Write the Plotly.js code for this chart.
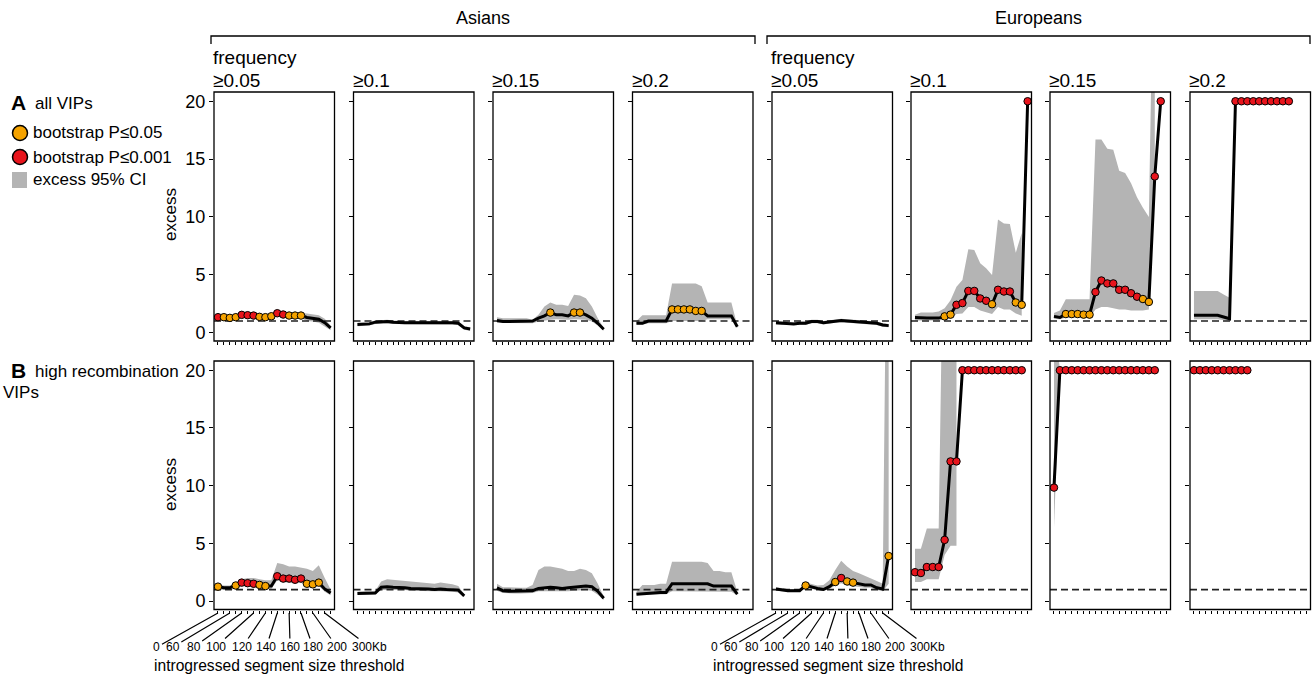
<!DOCTYPE html>
<html><head><meta charset="utf-8">
<script src="https://cdn.plot.ly/plotly-3.0.1.min.js"></script>
<style>body{margin:0;background:#fff}#chart{width:1314px;height:677px}</style>
</head><body><div id="chart"></div>
<script>
// ---------------- DATA ----------------
const thresholdIdx = [0,1,2,3,4,5,6,7,8,9,10,11,12,13,14,15,16,17,18,19];
const tickLabelText = ['0','60','80','100','120','140','160','180','200','300Kb'];
const tickLabelAt = [0,2,4,6,8,10,12,14,16,18];
const freqLabels = ['≥0.05','≥0.1','≥0.15','≥0.2'];
const populations = ['Asians','Europeans'];
const yTicks = [0,5,10,15,20];
const nullExcess = 1;
// sig: 0 = none, 1 = bootstrap P<=0.05, 2 = bootstrap P<=0.001

// Row A: all VIPs
const A1_ex  = [1.33,1.33,1.27,1.33,1.53,1.5,1.47,1.36,1.33,1.41,1.67,1.56,1.47,1.47,1.47,1.3,1.22,1.15,0.85,0.4];
const A1_lo  = [1.1,1.1,1.05,1.1,1.3,1.3,1.25,1.15,1.1,1.2,1.45,1.35,1.25,1.25,1.25,1.0,0.95,0.85,0.55,0.2];
const A1_hi  = [1.5,1.5,1.45,1.5,1.7,1.7,1.65,1.55,1.5,1.6,1.85,1.75,1.65,1.65,1.7,1.65,1.6,1.5,1.2,0.6];
const A1_sig = [2,1,1,1,2,2,2,1,1,1,2,2,1,1,1,0,0,0,0,0];

const A2_ex  = [0.7,0.7,0.75,0.9,0.95,0.95,0.9,0.85,0.85,0.85,0.85,0.9,0.85,0.85,0.85,0.85,0.85,0.8,0.4,0.3];
const A2_lo  = [0.55,0.55,0.6,0.75,0.8,0.8,0.75,0.7,0.7,0.7,0.7,0.75,0.7,0.7,0.7,0.7,0.7,0.65,0.25,0.15];
const A2_hi  = [0.85,0.85,0.9,1.05,1.1,1.1,1.05,1.0,1.0,1.0,1.0,1.05,1.0,1.0,1.0,1.0,1.0,0.95,0.55,0.45];
const A2_sig = [0,0,0,0,0,0,0,0,0,0,0,0,0,0,0,0,0,0,0,0];

const A3_ex  = [1.04,0.95,0.95,0.95,0.95,0.95,1.0,1.24,1.44,1.73,1.53,1.53,1.44,1.73,1.73,1.53,1.24,0.8,0.29,null];
const A3_lo  = [0.85,0.8,0.8,0.8,0.8,0.8,0.8,0.95,1.05,1.1,1.15,1.15,1.1,1.15,1.15,1.1,0.95,0.6,0.15,null];
const A3_hi  = [1.33,1.24,1.24,1.24,1.24,1.24,1.1,1.53,2.25,2.6,2.4,2.4,2.3,3.26,3.2,2.97,2.25,1.24,0.4,null];
const A3_sig = [0,0,0,0,0,0,0,0,0,1,0,0,0,1,1,0,0,0,0,0];

const A4_ex  = [0.8,0.8,1.0,1.0,1.0,1.0,2.0,2.0,2.0,2.0,1.87,1.87,1.44,1.44,1.44,1.44,1.44,0.5,null,null];
const A4_lo  = [0.7,0.7,0.8,0.8,0.8,0.8,1.0,1.0,1.0,1.0,1.0,1.0,1.15,1.15,1.15,1.15,1.15,0.4,null,null];
const A4_hi  = [1.0,1.5,1.5,1.5,1.5,1.5,4.25,4.25,4.25,4.25,4.25,4.0,2.6,2.6,2.6,2.6,2.6,0.6,null,null];
const A4_sig = [0,0,0,0,0,0,1,1,1,1,1,1,0,0,0,0,0,0,0,0];

const A5_ex  = [0.85,0.8,0.75,0.75,0.8,0.8,0.95,0.95,0.85,0.9,1.0,1.05,1.0,0.95,0.9,0.85,0.85,0.8,0.65,0.6];
const A5_lo  = [0.7,0.65,0.6,0.6,0.65,0.65,0.8,0.8,0.7,0.75,0.85,0.9,0.85,0.8,0.75,0.7,0.7,0.65,0.5,0.45];
const A5_hi  = [1.0,0.95,0.9,0.9,0.95,0.95,1.1,1.1,1.0,1.05,1.15,1.2,1.15,1.1,1.05,1.0,1.0,0.95,0.8,0.75];
const A5_sig = [0,0,0,0,0,0,0,0,0,0,0,0,0,0,0,0,0,0,0,0];

const A6_ex  = [1.3,1.25,1.25,1.25,1.25,1.4,1.55,2.4,2.55,3.6,3.6,2.95,2.75,2.45,3.7,3.55,3.55,2.6,2.4,20];
const A6_lo  = [1.05,1.05,1.05,1.05,1.05,1.1,1.2,1.6,1.65,2.2,2.2,1.9,1.75,1.6,2.2,2.0,2.0,1.65,1.45,null];
const A6_hi  = [1.53,1.73,1.73,1.73,1.81,2.1,2.8,3.97,4.55,7.2,7.14,6.0,5.55,4.98,9.78,9.44,9.38,6.9,8.6,null];
const A6_sig = [0,0,0,0,0,1,1,2,2,2,2,2,2,1,2,2,2,1,1,2];

const A7_ex  = [1.4,1.3,1.6,1.6,1.6,1.55,1.55,3.5,4.5,4.25,4.25,3.7,3.7,3.4,3.1,2.9,2.65,13.5,20,null];
const A7_lo  = [1.2,1.15,1.3,1.3,1.3,1.3,1.3,2.0,2.2,2.2,2.1,2.0,2.0,1.9,1.9,1.9,2.0,12,null,null];
const A7_hi  = [1.7,1.9,2.88,2.88,2.88,2.88,2.88,16.7,16.7,15.9,15.8,14.0,13.8,12.9,11.7,10.8,10.0,40,null,null];
const A7_sig = [0,0,1,1,1,1,1,2,2,2,2,2,2,2,2,1,1,2,2,0];

const A8_ex  = [1.5,1.5,1.5,1.5,1.5,1.35,1.2,20,20,20,20,20,20,20,20,20,20,null,null,null];
const A8_lo  = [1.15,1.15,1.15,1.15,1.15,1.1,1.0,null,null,null,null,null,null,null,null,null,null,null,null,null];
const A8_hi  = [3.6,3.6,3.6,3.6,3.6,3.3,3.0,null,null,null,null,null,null,null,null,null,null,null,null,null];
const A8_sig = [0,0,0,0,0,0,0,2,2,2,2,2,2,2,2,2,2,0,0,0];

// Row B: high recombination VIPs
const B1_ex  = [1.25,1.15,1.15,1.35,1.6,1.55,1.5,1.4,1.3,1.3,2.15,1.95,1.95,1.85,1.95,1.5,1.45,1.6,1.05,0.7];
const B1_lo  = [1.0,0.95,0.95,1.1,1.3,1.25,1.2,1.1,1.05,1.05,1.8,1.6,1.6,1.5,1.6,1.2,1.15,1.3,0.8,0.5];
const B1_hi  = [1.45,1.35,1.35,1.6,1.9,2.0,2.0,1.9,1.8,1.8,3.3,3.2,3.0,3.0,2.9,2.8,2.6,3.1,2.0,1.0];
const B1_sig = [1,0,0,1,2,2,2,1,1,0,2,2,2,2,2,1,1,1,0,0];

const B2_ex  = [0.65,0.65,0.7,0.7,1.2,1.25,1.2,1.2,1.15,1.1,1.1,1.05,1.05,1.0,1.05,1.0,0.95,0.95,0.45,null];
const B2_lo  = [0.55,0.55,0.6,0.6,0.95,1.0,0.95,0.95,0.95,0.9,0.9,0.9,0.85,0.85,0.85,0.85,0.8,0.75,0.35,null];
const B2_hi  = [0.8,0.8,0.85,0.9,1.7,1.9,1.85,1.8,1.75,1.65,1.6,1.6,1.55,1.5,1.6,1.55,1.45,1.3,0.6,null];
const B2_sig = [0,0,0,0,0,0,0,0,0,0,0,0,0,0,0,0,0,0,0,0];

const B3_ex  = [1.15,0.9,0.85,0.85,0.85,0.85,0.9,1.1,1.15,1.2,1.15,1.1,1.15,1.2,1.25,1.3,1.25,0.85,0.25,null];
const B3_lo  = [0.9,0.7,0.65,0.65,0.65,0.65,0.7,0.85,0.85,0.9,0.85,0.85,0.85,0.9,0.95,0.95,0.9,0.55,0.1,null];
const B3_hi  = [1.5,1.2,1.2,1.15,1.15,1.15,1.4,2.7,3.0,3.0,2.9,2.8,2.6,2.6,2.8,2.7,2.4,1.5,0.4,null];
const B3_sig = [0,0,0,0,0,0,0,0,0,0,0,0,0,0,0,0,0,0,0,0];

const B4_ex  = [0.6,0.65,0.7,0.7,0.75,0.75,1.5,1.5,1.5,1.5,1.5,1.5,1.5,1.3,1.3,1.3,1.3,0.6,null,null];
const B4_lo  = [0.5,0.55,0.55,0.55,0.6,0.6,0.85,0.85,0.85,0.85,0.85,0.85,0.85,0.8,0.8,0.8,0.8,0.5,null,null];
const B4_hi  = [0.8,1.4,1.4,1.4,1.5,1.5,3.4,3.4,3.4,3.4,3.4,3.4,3.3,2.6,2.6,2.5,2.5,0.8,null,null];
const B4_sig = [0,0,0,0,0,0,0,0,0,0,0,0,0,0,0,0,0,0,0,0];

const B5_ex  = [1.05,0.95,0.9,0.9,0.9,1.35,1.2,1.1,1.0,1.25,1.65,2.0,1.7,1.6,1.45,1.4,1.4,1.15,1.05,3.9];
const B5_lo  = [0.9,0.85,0.8,0.8,0.8,1.15,1.05,0.95,0.9,1.05,1.35,1.55,1.35,1.3,1.2,1.15,1.15,0.95,0.85,1.5];
const B5_hi  = [1.2,1.1,1.05,1.05,1.05,1.6,1.5,1.35,1.4,1.8,2.7,3.5,3.0,2.6,2.4,2.2,2.0,1.75,1.5,50];
const B5_sig = [0,0,0,0,0,1,0,0,0,0,1,2,1,1,0,0,0,0,0,1];

const B6_ex  = [2.5,2.43,2.95,2.95,2.95,5.3,12.1,12.1,20,20,20,20,20,20,20,20,20,20,20,null];
const B6_lo  = [1.65,1.65,1.9,1.9,1.9,4.0,4.8,4.8,null,null,null,null,null,null,null,null,null,null,null,null];
const B6_hi  = [4.54,4.54,6.28,6.28,6.28,40,40,40,null,null,null,null,null,null,null,null,null,null,null,null];
const B6_sig = [2,2,2,2,2,2,2,2,2,2,2,2,2,2,2,2,2,2,2,0];

const B7_ex  = [9.83,20,20,20,20,20,20,20,20,20,20,20,20,20,20,20,20,20,null,null];
const B7_lo  = [6.3,20,null,null,null,null,null,null,null,null,null,null,null,null,null,null,null,null,null,null];
const B7_hi  = [25,20,null,null,null,null,null,null,null,null,null,null,null,null,null,null,null,null,null,null];
const B7_sig = [2,2,2,2,2,2,2,2,2,2,2,2,2,2,2,2,2,2,0,0];

const B8_ex  = [20,20,20,20,20,20,20,20,20,20,null,null,null,null,null,null,null,null,null,null];
const B8_lo  = [null,null,null,null,null,null,null,null,null,null,null,null,null,null,null,null,null,null,null,null];
const B8_hi  = [null,null,null,null,null,null,null,null,null,null,null,null,null,null,null,null,null,null,null,null];
const B8_sig = [2,2,2,2,2,2,2,2,2,2,0,0,0,0,0,0,0,0,0,0];

// ---------------- STYLE ----------------
const W = 1314, H = 677;
const FONT = 'Liberation Sans, Arial, sans-serif';
const ORANGE = '#F5A300', RED = '#E8141C', CI_COLOR = '#B4B4B4';
const XMIN = -0.67, XMAX = 19.65, YMIN = -0.73, YMAX = 20.8;
const colLeft = [214, 353.5, 493, 632.5, 772, 911, 1050, 1190];
const colW = 120.5;
const rowTop = [92, 361], rowBot = [341, 609.5];
const P = x => x / W, Q = y => 1 - y / H;

const panels = [
  [A1_ex,A1_lo,A1_hi,A1_sig],[A2_ex,A2_lo,A2_hi,A2_sig],[A3_ex,A3_lo,A3_hi,A3_sig],[A4_ex,A4_lo,A4_hi,A4_sig],
  [A5_ex,A5_lo,A5_hi,A5_sig],[A6_ex,A6_lo,A6_hi,A6_sig],[A7_ex,A7_lo,A7_hi,A7_sig],[A8_ex,A8_lo,A8_hi,A8_sig],
  [B1_ex,B1_lo,B1_hi,B1_sig],[B2_ex,B2_lo,B2_hi,B2_sig],[B3_ex,B3_lo,B3_hi,B3_sig],[B4_ex,B4_lo,B4_hi,B4_sig],
  [B5_ex,B5_lo,B5_hi,B5_sig],[B6_ex,B6_lo,B6_hi,B6_sig],[B7_ex,B7_lo,B7_hi,B7_sig],[B8_ex,B8_lo,B8_hi,B8_sig]
];

const traces = [];
const layout = {
  width: W, height: H, margin: {l:0, r:0, t:0, b:0},
  paper_bgcolor: '#fff', plot_bgcolor: '#fff',
  font: {family: FONT, color: '#000'},
  showlegend: false, annotations: [], shapes: []
};
const A = layout.annotations, S = layout.shapes;

panels.forEach((p, k) => {
  const n = k + 1, r = k < 8 ? 0 : 1, c = k % 8;
  const [ex, lo, hi, sig] = p;
  const xa = 'x' + n, ya = 'y' + n;
  const cx = [], cy = [];
  const ids = thresholdIdx.filter(i => hi[i] != null && lo[i] != null);
  ids.forEach(i => { cx.push(thresholdIdx[i]); cy.push(hi[i]); });
  ids.slice().reverse().forEach(i => { cx.push(thresholdIdx[i]); cy.push(lo[i]); });
  if (cx.length) traces.push({type:'scatter', x:cx, y:cy, xaxis:xa, yaxis:ya, mode:'lines',
    fill:'toself', fillcolor:CI_COLOR, line:{width:0, color:CI_COLOR}, hoverinfo:'skip'});
  traces.push({type:'scatter', x:[XMIN, XMAX], y:[nullExcess, nullExcess], xaxis:xa, yaxis:ya, mode:'lines',
    line:{color:'#222', width:1.7, dash:'7px,4px'}, hoverinfo:'skip'});
  traces.push({type:'scatter', x:thresholdIdx.slice(), y:ex, xaxis:xa, yaxis:ya, mode:'lines',
    line:{color:'#000', width:3}, hoverinfo:'skip'});
  const mx = [], my = [], mc = [];
  sig.forEach((s, i) => { if (s > 0 && ex[i] != null) { mx.push(thresholdIdx[i]); my.push(ex[i]); mc.push(s === 1 ? ORANGE : RED); } });
  if (mx.length) traces.push({type:'scatter', x:mx, y:my, xaxis:xa, yaxis:ya, mode:'markers',
    marker:{size:7.5, color:mc, line:{color:'#000', width:1}}, hoverinfo:'skip'});

  const axName = n === 1 ? '' : n;
  layout['xaxis' + axName] = {domain:[P(colLeft[c]), P(colLeft[c] + colW)], anchor:ya, range:[XMIN, XMAX],
    showline:false, ticks:'outside', ticklen:3, tickwidth:1,
    tickcolor:'#000', tickvals:thresholdIdx, showticklabels:false, showgrid:false, zeroline:false, fixedrange:true};
  layout['yaxis' + axName] = {domain:[Q(rowBot[r]), Q(rowTop[r])], anchor:xa, range:[YMIN, YMAX],
    showline:false, ticks:'outside', ticklen:4, tickwidth:1,
    tickcolor:'#000', tickvals:yTicks, showticklabels:c === 0, tickfont:{size:18, family:FONT},
    showgrid:false, zeroline:false, fixedrange:true};
  // panel frame
  S.push({type:'rect', xref:xa + ' domain', yref:ya + ' domain', x0:0, x1:1, y0:0, y1:1,
    line:{color:'#000', width:1.3}, fillcolor:'rgba(0,0,0,0)', layer:'above'});
});

function txt(text, x, y, size, xanchor, extra) {
  A.push(Object.assign({text, x:P(x), y:Q(y), xref:'paper', yref:'paper', xanchor:xanchor || 'left',
    yanchor:'middle', showarrow:false, font:{size, family:FONT, color:'#000'}}, extra || {}));
}
// population headers with brackets
const groupSpan = [[211, 755], [767, 1310]];
populations.forEach((pop, g) => {
  const [a, b] = groupSpan[g];
  txt(pop, (a + b) / 2, 18, 18, 'center');
  S.push({type:'path', xref:'paper', yref:'paper',
    path:`M ${P(a)},${Q(44)} L ${P(a)},${Q(36)} L ${P(b)},${Q(36)} L ${P(b)},${Q(44)}`,
    line:{color:'#000', width:1.3}});
  txt('frequency', colLeft[g * 4] - 3, 57, 19);
});
for (let c = 0; c < 8; c++) txt(freqLabels[c % 4], colLeft[c] - 3, 80, 19);

// left-hand panel labels and legend
txt('<b>A</b>', 9, 103, 21);
txt('all VIPs', 33, 104, 17);
S.push({type:'circle', xref:'paper', yref:'paper', x0:P(12.5), x1:P(27.5), y0:Q(140.5), y1:Q(125.5), fillcolor:ORANGE, line:{color:'#000', width:1.5}});
S.push({type:'circle', xref:'paper', yref:'paper', x0:P(12.5), x1:P(27.5), y0:Q(164.5), y1:Q(149.5), fillcolor:RED, line:{color:'#000', width:1.5}});
S.push({type:'rect', xref:'paper', yref:'paper', x0:P(12), x1:P(27), y0:Q(188), y1:Q(172), fillcolor:CI_COLOR, line:{width:0}});
txt('bootstrap P≤0.05', 31, 133, 17);
txt('bootstrap P≤0.001', 31, 157, 17);
txt('excess 95% CI', 31, 180, 17);
txt('<b>B</b>', 9, 370, 21);
txt('high recombination', 33, 371, 17);
txt('VIPs', 1, 392, 17);
txt('excess', 170, 215, 17, 'center', {textangle:-90});
txt('excess', 170, 485, 17, 'center', {textangle:-90});

// bottom threshold labels with leader lines (row B, first panel of each population)
const labelDx = [-61, -57, -48, -38, -23, -11, 1, 12, 24, 45];
[9, 13].forEach((n, g) => {
  tickLabelText.forEach((t, j) => {
    A.push({text:t, x:thresholdIdx[tickLabelAt[j]], xref:'x' + n, y:Q(613), yref:'paper',
      showarrow:true, arrowhead:0, arrowwidth:1.2, arrowcolor:'#000', ax:labelDx[j], ay:34,
      standoff:0, startstandoff:0, font:{size:12, family:FONT, color:'#000'}});
  });
  txt('introgressed segment size threshold', g === 0 ? 152 : 711, 665, 15.6);
});

Plotly.newPlot('chart', traces, layout, {staticPlot:true});
</script></body></html>
